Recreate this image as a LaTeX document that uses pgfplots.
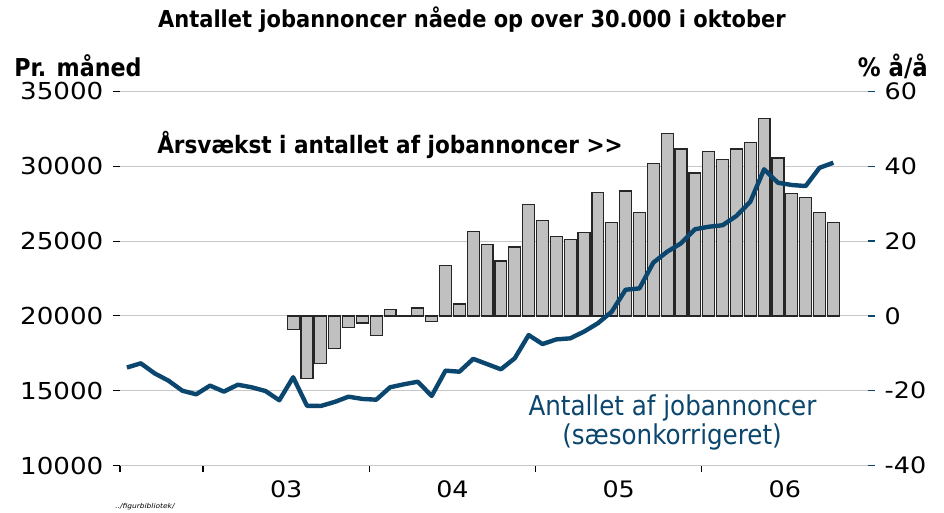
\documentclass[border=0pt]{standalone}
\usepackage{pgfplots}
\pgfplotsset{compat=1.18}
\usepackage{fontspec}
\setmainfont{DejaVu Sans}[FakeStretch=1.12]
\newfontfamily\condfont{DejaVu Sans Condensed}
\definecolor{lineblue}{RGB}{11,70,110}
\definecolor{barfill}{RGB}{192,192,192}
\definecolor{gridgray}{RGB}{200,200,200}
\begin{document}
\begin{tikzpicture}
\useasboundingbox (-90pt,-34.875pt) rectangle (618pt,349.125pt);
% bars, right axis
\begin{axis}[
  at={(0,0)}, anchor=south west,
  scale only axis, width=561pt, height=280.5pt,
  xmin=-0.5, xmax=53.5, ymin=-40, ymax=60,
  ytick={-40,-20,0,20,40,60},
  axis y line*=right, axis x line*=bottom,
  x axis line style={draw=none}, y axis line style={draw=none},
  xtick={-0.5,5.5,17.5,29.5,41.5}, xticklabels={},
  extra x ticks={11.5,23.5,35.5,47.5},
  extra x tick labels={03,04,05,06},
  extra x tick style={tick style={draw=none}, xticklabel style={yshift=-3pt}},
  tick align=outside, major tick length=5pt,
  x tick style={black, line width=1pt},
  y tick style={lineblue, line width=1pt},
  ymajorgrids, grid style={gridgray, line width=0.8pt},
  /pgf/number format/assume math mode=true,
  ticklabel style={font=\fontsize{17}{17}\selectfont, text=black},
  yticklabel style={xshift=4pt},
  clip=false,
]
\addplot[ybar, bar width=0.86, fill=barfill, draw=black!85, line width=0.9pt] coordinates {
(12,-3.6) (13,-16.8) (14,-12.8) (15,-8.7) (16,-3.0) (17,-1.9) (18,-5.3) (19,1.7)
(20,0.1) (21,2.1) (22,-1.6) (23,13.4) (24,3.2) (25,22.5) (26,19.1) (27,14.7)
(28,18.4) (29,29.7) (30,25.6) (31,21.2) (32,20.5) (33,22.3) (34,33.1) (35,24.9)
(36,33.4) (37,27.6) (38,40.8) (39,48.7) (40,44.6) (41,38.2) (42,43.9) (43,41.9)
(44,44.6) (45,46.3) (46,52.8) (47,42.2) (48,32.7) (49,31.7) (50,27.6) (51,24.9)
};
\end{axis}
% line, left axis
\begin{axis}[
  at={(0,0)}, anchor=south west,
  scale only axis, width=561pt, height=280.5pt,
  xmin=-0.5, xmax=53.5, ymin=10000, ymax=35000,
  ytick={10000,15000,20000,25000,30000,35000},
  scaled y ticks=false,
  axis y line*=left, hide x axis,
  y axis line style={draw=none},
  tick align=outside, major tick length=5pt,
  y tick style={black, line width=0.8pt},
  /pgf/number format/assume math mode=true,
  /pgf/number format/1000 sep={},
  yticklabel style={font=\fontsize{17.5}{17.5}\selectfont, text=black, xshift=-4pt},
  clip=false,
]
\addplot[lineblue, line width=3.3pt, line join=round] coordinates {
(0,16550) (1,16830) (2,16160) (3,15670) (4,15000) (5,14760) (6,15340) (7,14940)
(8,15400) (9,15230) (10,14980) (11,14360) (12,15900) (13,13990) (14,13980) (15,14250)
(16,14600) (17,14450) (18,14400) (19,15230) (20,15430) (21,15600) (22,14650) (23,16340)
(24,16270) (25,17130) (26,16780) (27,16430) (28,17170) (29,18720) (30,18120) (31,18430)
(32,18500) (33,18950) (34,19510) (35,20280) (36,21750) (37,21840) (38,23560) (39,24290)
(40,24850) (41,25790) (42,25960) (43,26060) (44,26680) (45,27630) (46,29800) (47,28900)
(48,28750) (49,28680) (50,29900) (51,30240)
};
\end{axis}
\node[font=\condfont\bfseries\fontsize{17.5}{17.5}\selectfont] at (264pt,334.1pt) {Antallet jobannoncer nåede op over 30.000 i oktober};
\node[anchor=west, inner sep=0pt, font=\condfont\bfseries\fontsize{18.5}{18.5}\selectfont] at (-79.5pt,299.6pt) {Pr. måned};
\node[anchor=east, inner sep=0pt, font=\condfont\bfseries\fontsize{19}{19}\selectfont] at (606pt,299.6pt) {\% å/å};
\node[anchor=west, inner sep=0pt, font=\condfont\bfseries\fontsize{18}{18}\selectfont] at (27.75pt,240.4pt) {Årsvækst i antallet af jobannoncer >>};
\node[text=lineblue, font=\condfont\fontsize{20.5}{20.5}\selectfont] at (414.4pt,43.1pt) {Antallet af jobannoncer};
\node[text=lineblue, font=\condfont\fontsize{20.5}{20.5}\selectfont] at (414pt,21.4pt) {(sæsonkorrigeret)};
\node[anchor=west, inner sep=0pt, font=\itshape\fontsize{5}{5}\selectfont] at (-3.75pt,-31.1pt) {../figurbibliotek/};
\end{tikzpicture}
\end{document}
